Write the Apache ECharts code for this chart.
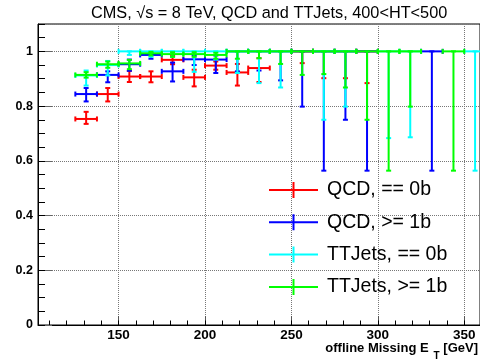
<!DOCTYPE html>
<html>
<head>
<meta charset="utf-8">
<script src="https://cdn.jsdelivr.net/npm/echarts@6/dist/echarts.min.js"></script>
<style>
  html, body { margin: 0; padding: 0; background: #fff; }
  #chart { width: 480px; height: 362px; }
</style>
</head>
<body>
<div id="chart"></div>
<script>
// Trigger efficiency vs offline missing ET, 12.5 GeV bins
const binCenters = [131.25, 143.75, 156.25, 168.75, 181.25, 193.75, 206.25, 218.75, 231.25, 243.75,
                    256.25, 268.75, 281.25, 293.75, 306.25, 318.75, 331.25, 343.75, 356.25];
const binHalfWidth = 6.25;

// QCD, == 0b
const qcd0bEff  = [0.753, 0.844, 0.908, 0.908, 0.969, 0.905, 0.948, 0.923, 0.939, null, 1, 1, 1, 1, null, null, null, null, null];
const qcd0bLow  = [0.735, 0.817, 0.888, 0.887, 0.953, 0.872, 0.933, 0.875, 0.888, null, 0.957, 0.902, 0.902, 0.884, null, null, null, null, null];
const qcd0bHigh = [0.779, 0.866, 0.929, 0.927, 0.984, 0.933, 0.963, 0.954, 0.975, null, 1, 1, 1, 1, null, null, null, null, null];

// QCD, >= 1b
const qcd1bEff  = [0.844, 0.914, 0.953, 0.987, 0.927, 0.971, 0.970, 1, 1, 1, 1, 1, 1, 1, null, null, 1, null, null];
const qcd1bLow  = [0.817, 0.887, 0.929, 0.973, 0.890, 0.950, 0.921, 0.927, 0.930, 0.894, 0.798, 0.564, 0.750, 0.564, null, null, 0.564, null, null];
const qcd1bHigh = [0.866, 0.927, 0.970, 0.995, 0.959, 0.985, 0.985, 1, 1, 1, 1, 1, 1, 1, null, null, 1, null, null];

// TTJets, == 0b
const tt0bEff  = [0.912, 0.950, 1, 1, 1, 1, 1, 1, 1, 1, null, 1, 1, null, 1, 1, null, null, 1];
const tt0bLow  = [0.875, 0.912, 0.987, 0.980, 0.980, 0.925, 0.970, 0.921, 0.884, 0.868, null, 0.750, 0.798, null, 0.683, 0.686, null, null, 0.564];
const tt0bHigh = [0.930, 0.965, 1, 1, 1, 1, 1, 1, 1, 1, null, 1, 1, null, 1, 1, null, null, 1];

// TTJets, >= 1b
const tt1bEff  = [0.914, 0.953, 0.956, 0.993, 0.990, 0.990, 0.987, 1, 1, 1, 1, 1, 1, 1, 1, 1, null, 1, null];
const tt1bLow  = [0.904, 0.940, 0.935, 0.985, 0.980, 0.980, 0.973, 0.973, 0.975, 0.954, 0.914, 0.917, 0.868, 0.750, 0.564, 0.798, null, 0.564, null];
const tt1bHigh = [0.924, 0.963, 0.969, 0.998, 0.997, 0.997, 0.995, 1, 1, 1, 1, 1, 1, 1, 1, 1, null, 1, null];

const seriesNames = ['QCD, == 0b', 'QCD, >= 1b', 'TTJets, == 0b', 'TTJets, >= 1b'];
const seriesColors = ['#ff0000', '#0000ff', '#00ffff', '#00ff00'];

const xMajorTicks = [150, 200, 250, 300, 350];
const xMinorTicks = [110, 120, 130, 140, 150, 160, 170, 180, 190, 200, 210, 220, 230, 240, 250,
                     260, 270, 280, 290, 300, 310, 320, 330, 340, 350];

function toPoints(eff, low, high) {
  const pts = [];
  binCenters.forEach(function (c, i) {
    if (eff[i] !== null) pts.push([c, eff[i], low[i], high[i]]);
  });
  return pts;
}

function errorBar(color) {
  return function (params, api) {
    const c = api.value(0), v = api.value(1), lo = api.value(2), hi = api.value(3);
    const l = api.coord([c - binHalfWidth, v]);
    const r = api.coord([c + binHalfWidth, v]);
    const t = api.coord([c, hi]);
    const b = api.coord([c, lo]);
    const cap = 2.5;
    const seg = function (x1, y1, x2, y2) {
      return { type: 'line', shape: { x1: x1, y1: y1, x2: x2, y2: y2 },
               style: { stroke: color, lineWidth: 2, fill: null } };
    };
    return {
      type: 'group',
      children: [
        seg(l[0], l[1], r[0], r[1]),
        seg(t[0], t[1], b[0], b[1]),
        seg(l[0], l[1] - cap, l[0], l[1] + cap),
        seg(r[0], r[1] - cap, r[0], r[1] + cap),
        seg(t[0] - cap, t[1], t[0] + cap, t[1]),
        seg(b[0] - cap, b[1], b[0] + cap, b[1])
      ]
    };
  };
}

const seriesData = [
  toPoints(qcd0bEff, qcd0bLow, qcd0bHigh),
  toPoints(qcd1bEff, qcd1bLow, qcd1bHigh),
  toPoints(tt0bEff, tt0bLow, tt0bHigh),
  toPoints(tt1bEff, tt1bLow, tt1bHigh)
];

const font = 'Liberation Sans, Arial, Helvetica, sans-serif';
const xMin = 103.4, xMax = 359.1;

const chart = echarts.init(document.getElementById('chart'), null, { renderer: 'canvas' });
chart.setOption({
  animation: false,
  backgroundColor: '#fff',
  title: [
    {
      text: 'CMS, \u221As = 8 TeV, QCD and TTJets, 400<HT<500',
      left: 86, top: 1,
      textStyle: { fontFamily: font, fontSize: 16.3, fontWeight: 'normal', color: '#000' }
    },
    {
      text: '{a|offline Missing E}{s|T}{a| [GeV]}',
      right: 2, top: 342, padding: 0,
      textStyle: {
        rich: {
          a: { fontFamily: font, fontSize: 13, fontWeight: 'bold', color: '#000', lineHeight: 14, verticalAlign: 'top' },
          s: { fontFamily: font, fontSize: 10, fontWeight: 'bold', color: '#000', lineHeight: 10, verticalAlign: 'top', padding: [9, 0, 0, 5] }
        }
      }
    }
  ],
  legend: {
    orient: 'vertical',
    left: 269, top: 180,
    itemWidth: 49, itemHeight: 16, itemGap: 12.3,
    icon: 'path://M0,7H49V9H0Z M23.5,0H25.5V16H23.5Z',
    padding: 0,
    textStyle: { fontFamily: font, fontSize: 19.5, color: '#000', lineHeight: 16, padding: [0, 0, 0, 4] },
    data: seriesNames
  },
  grid: {
    left: 38, right: -2, top: 24, bottom: 37,
    show: true, borderColor: '#000', borderWidth: 1, backgroundColor: 'transparent'
  },
  xAxis: [
    {
      type: 'value', position: 'bottom', min: xMin, max: xMax,
      axisLine: { show: true, lineStyle: { color: '#000', width: 1 } },
      axisTick: { show: true, inside: true, length: 9, customValues: xMajorTicks, lineStyle: { color: '#555' } },
      axisLabel: { show: true, customValues: xMajorTicks, margin: 3, fontFamily: font, fontSize: 13.5, fontWeight: 'bold', color: '#000' },
      splitLine: { show: true, lineStyle: { color: '#777', type: 'dotted', width: 1 } }
    },
    {
      type: 'value', position: 'bottom', min: xMin, max: xMax,
      axisLine: { show: false },
      axisTick: { show: true, inside: true, length: 4.5, customValues: xMinorTicks, lineStyle: { color: '#000' } },
      axisLabel: { show: false },
      splitLine: { show: false }
    }
  ],
  yAxis: [
    {
      type: 'value', position: 'left', min: 0, max: 1.1, interval: 0.2,
      axisLine: { show: true, lineStyle: { color: '#000', width: 1 } },
      axisTick: { show: true, inside: true, length: 14, lineStyle: { color: '#666' } },
      axisLabel: { show: true, showMaxLabel: false, margin: 5, fontFamily: font, fontSize: 12.5, fontWeight: 'bold', color: '#000' },
      splitLine: { show: true, lineStyle: { color: '#777', type: 'dotted', width: 1 } }
    },
    {
      type: 'value', position: 'left', min: 0, max: 1.1, interval: 0.05,
      axisLine: { show: false },
      axisTick: { show: true, inside: true, length: 7, lineStyle: { color: '#000' } },
      axisLabel: { show: false },
      splitLine: { show: false }
    }
  ],
  series: seriesNames.map(function (name, k) {
    return {
      name: name,
      type: 'custom',
      coordinateSystem: 'cartesian2d',
      xAxisIndex: 0, yAxisIndex: 0,
      itemStyle: { color: seriesColors[k] },
      encode: { x: 0, y: 1 },
      renderItem: errorBar(seriesColors[k]),
      data: seriesData[k],
      z: 2 + k
    };
  })
});
</script>
</body>
</html>
